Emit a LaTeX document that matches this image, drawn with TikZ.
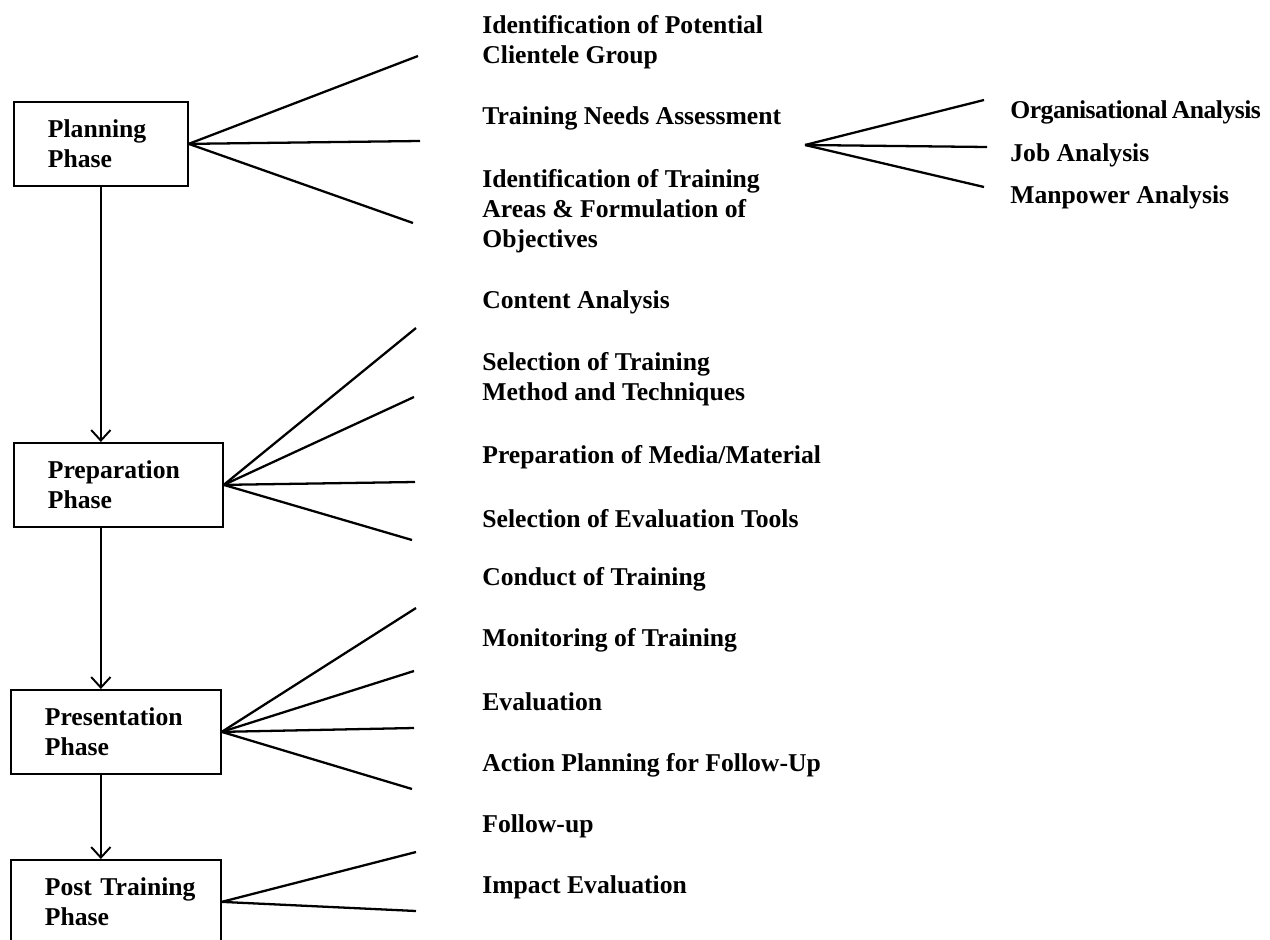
\documentclass[tikz,border=0pt]{standalone}
\usepackage{fontspec}
\setmainfont{Liberation Serif}
\usetikzlibrary{arrows.meta}
\newcommand\stagefont{\fontsize{14.6pt}{17pt}\selectfont\bfseries}
\tikzset{
  phasebox/.style={draw, line width=1pt, font=\stagefont, align=left, anchor=north west,
    inner xsep=0.68cm, inner ysep=0pt, minimum height=1.68cm},
  activity/.style={font=\stagefont, align=left, anchor=west, inner sep=0pt},
  branch/.style={line width=1.3pt},
  flow/.style={line width=1.1pt, -{Straight Barb[length=6pt,width=11pt,line width=1.1pt]}},
}
\begin{document}
\begin{tikzpicture}[x=0.02cm, y=-0.02cm]
  % --- frame, one unit = one pixel of the 1270 x 939 page ---
  \useasboundingbox (0,0) rectangle (1270,939);
  \clip (0,0) rectangle (1270,939);

  % --- phase boxes ---
  \node[phasebox, text width=2.12cm] (plan) at (13,101) {Planning\\Phase};
  \node[phasebox, text width=2.82cm] (prep) at (13,442) {Preparation\\Phase};
  \node[phasebox, text width=2.84cm] (pres) at (10,689) {Presentation\\Phase};
  \node[phasebox, text width=2.84cm] (post) at (10,859) {\mbox{Post Training}\\Phase};

  % phase sequence
  \draw[flow] (plan.south) -- (plan.south |- prep.north);
  \draw[flow] (prep.south -| plan.south) -- (plan.south |- pres.north);
  \draw[flow] (pres.south -| plan.south) -- (plan.south |- post.north);

  % --- branch ends ---
  \coordinate (p1) at (418,56);  \coordinate (p2) at (420,141); \coordinate (p3) at (413,223);
  \coordinate (q1) at (416,328); \coordinate (q2) at (414,397); \coordinate (q3) at (415,482);
  \coordinate (q4) at (412,540);
  \coordinate (r1) at (416,608); \coordinate (r2) at (414,671); \coordinate (r3) at (414,728);
  \coordinate (r4) at (412,789);
  \coordinate (s1) at (416,852); \coordinate (s2) at (416,911);

  \foreach \c in {p1,p2,p3} \draw[branch] (plan.east) -- (\c);
  \foreach \c in {q1,q2,q3,q4} \draw[branch] (prep.east) -- (\c);
  \foreach \c in {r1,r2,r3,r4} \draw[branch] (pres.east) -- (\c);
  \foreach \c in {s1,s2} \draw[branch] (post.east) -- (\c);

  % ===== PLANNING activities =====
  \node[activity] (clientele) at (482,42.5) {Identification of Potential\\Clientele Group};
  \node[activity] (needs) at (482,118) {Training Needs Assessment};
  \node[activity] (areas) at (482,211) {Identification of Training\\Areas \& Formulation of\\Objectives};

  % needs assessment split
  \coordinate (tnaroot) at (805,145);
  \coordinate (t1) at (984,100); \coordinate (t2) at (987,147); \coordinate (t3) at (984,187);
  \foreach \c in {t1,t2,t3} \draw[branch] (tnaroot) -- (\c);
  \node[activity] (orga) at (1010,112)
    {\addfontfeatures{LetterSpace=-2}Organisational\,Analysis};
  \node[activity] (joba) at (1010,155) {Job Analysis};
  \node[activity] (mana) at (1010,197) {Manpower Analysis};

  % ===== PREPARATION activities =====
  \node[activity] (content) at (482,302) {Content Analysis};
  \node[activity] (method) at (482,379.5) {Selection of Training\\Method and Techniques};
  \node[activity] (media) at (482,457) {Preparation of Media/Material};
  \node[activity] (tools) at (482,519) {Selection of Evaluation Tools};

  % ===== PRESENTATION activities =====
  \node[activity] (conduct) at (482,579) {Conduct of Training};
  \node[activity] (monitor) at (482,640) {Monitoring of Training};
  \node[activity] (evalu) at (482,702) {Evaluation};
  \node[activity] (action) at (482,765) {Action Planning for Follow-Up};

  % ===== POST TRAINING activities =====
  \node[activity] (follow) at (482,826) {Follow-up};
  \node[activity] (impact) at (482,887) {Impact Evaluation};
\end{tikzpicture}
\end{document}
